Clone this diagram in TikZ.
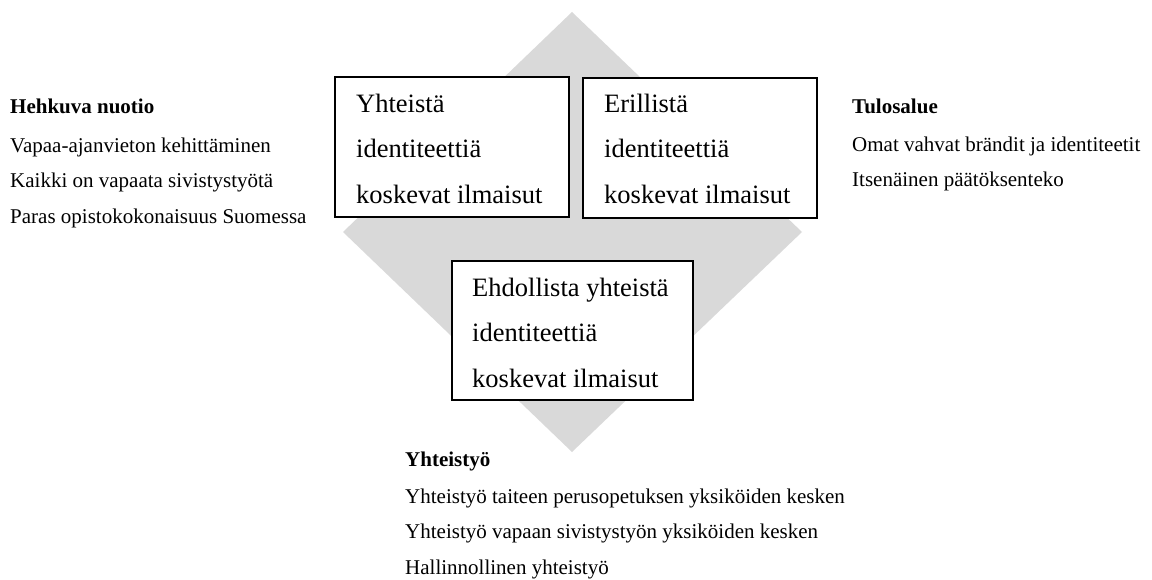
\documentclass[tikz,border=0pt]{standalone}
\usepackage{fontspec}
\setmainfont{Liberation Serif}
\begin{document}
\begin{tikzpicture}[x=1pt,y=-1pt,
  backdrop/.style={fill=diamondgray},
  frame/.style={draw=black,line width=2pt,fill=white,inner sep=0pt,anchor=north west},
  boxtext/.style={inner sep=0pt,anchor=north west,align=left,
    font=\fontsize{26.5}{45.5}\selectfont},
  sidetext/.style={inner sep=0pt,anchor=north west,align=left,
    font=\fontsize{21}{35.5}\selectfont}]
\definecolor{diamondgray}{RGB}{217,217,217}
\useasboundingbox (0,0) rectangle (1152,580);

% grey diamond behind the three statement boxes
\coordinate (dtop) at (572,12);
\coordinate (dright) at (802,232);
\coordinate (dbottom) at (572,452);
\coordinate (dleft) at (343,232);
\fill[backdrop] (dtop) -- (dright) -- (dbottom) -- (dleft) -- cycle;

% statement boxes
\node[frame,minimum width=234pt,minimum height=140pt] (shared) at (334,76) {};
\node[frame,minimum width=234pt,minimum height=140pt] (separate) at (582,77) {};
\node[frame,minimum width=241pt,minimum height=139pt] (conditional) at (451,260) {};

\node[boxtext] (sharedtxt) at (356,87)
  {\rule{0pt}{25pt}Yhteistä\\identiteettiä\\koskevat ilmaisut};
\node[boxtext] (separatetxt) at (604,87)
  {\rule{0pt}{25pt}Erillistä\\identiteettiä\\koskevat ilmaisut};
\node[boxtext] (conditionaltxt) at (472,271)
  {\rule{0pt}{25pt}Ehdollista yhteistä\\identiteettiä\\koskevat ilmaisut};

% side descriptions
\node[sidetext] (campfire) at (10,93)
  {\rule{0pt}{20pt}\textbf{Hehkuva nuotio}\\[3.5pt]
   Vapaa-ajanvieton kehittäminen\\
   Kaikki on vapaata sivistystyötä\\
   Paras opistokokonaisuus Suomessa};
\node[sidetext] (results) at (852,93)
  {\rule{0pt}{20pt}\textbf{Tulosalue}\\[2.5pt]
   Omat vahvat brändit ja identiteetit\\
   Itsenäinen päätöksenteko};
\node[sidetext] (cooperation) at (405,446)
  {\rule{0pt}{20pt}\textbf{Yhteistyö}\\[1.5pt]
   Yhteistyö taiteen perusopetuksen yksiköiden kesken\\
   Yhteistyö vapaan sivistystyön yksiköiden kesken\\
   Hallinnollinen yhteistyö};
\end{tikzpicture}
\end{document}
